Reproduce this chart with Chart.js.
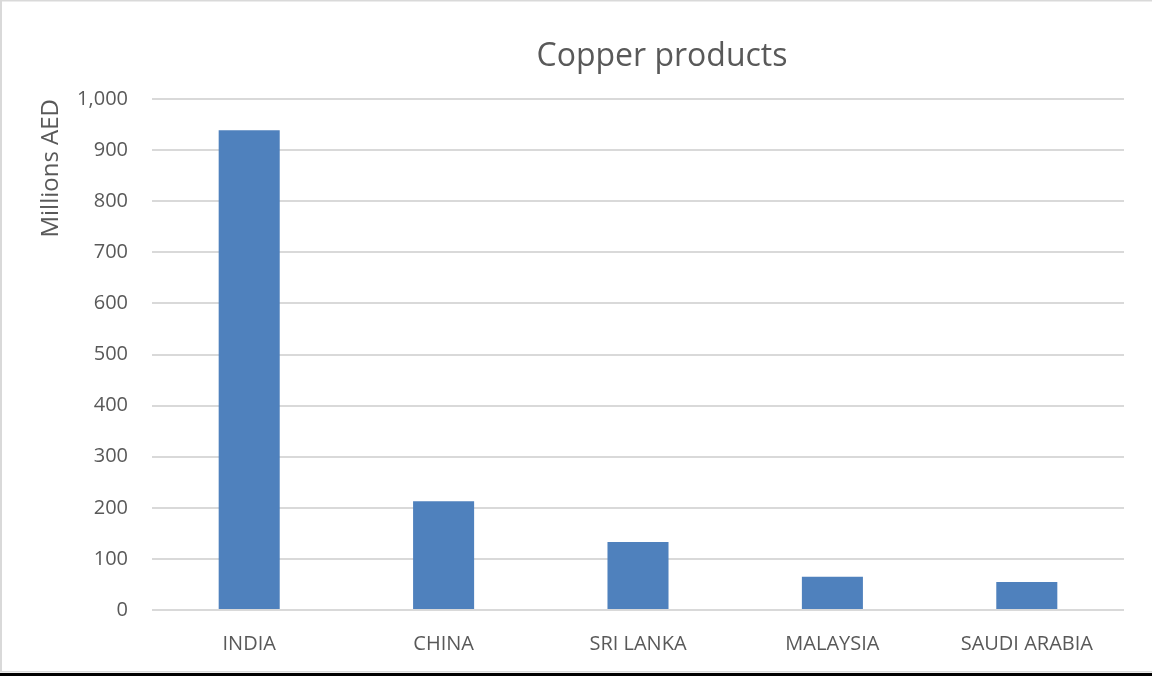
<!DOCTYPE html>
<html>
<head>
<meta charset="utf-8">
<title>Copper products</title>
<script src="https://cdn.jsdelivr.net/npm/chart.js@4/dist/chart.umd.min.js"></script>
<style>
  html, body { margin: 0; padding: 0; background: #ffffff; }
  #wrap { width: 1152px; height: 676px; position: relative; }
  canvas { display: block; }
</style>
</head>
<body>
<div id="wrap"><canvas id="chart" width="1152" height="676"></canvas></div>
<script>
// Export destinations and values (millions AED)
const categories = ['INDIA', 'CHINA', 'SRI LANKA', 'MALAYSIA', 'SAUDI ARABIA'];
const exportValues = [939, 213, 133, 65, 55];
const chartTitle = 'Copper products';
const yAxisTitle = 'Millions AED';
const yMin = 0;
const yMax = 1000;
const yStep = 100;

const textColor = '#595959';
const fontFamily = '"Open Sans", "Noto Sans", "Liberation Sans", sans-serif';

// White background and the frame around the chart object
const framePlugin = {
  id: 'frame',
  beforeDraw(chart) {
    const { ctx, width, height } = chart;
    ctx.save();
    ctx.fillStyle = '#ffffff';
    ctx.fillRect(0, 0, width, height);
    ctx.fillStyle = '#d9d9d9';
    ctx.fillRect(0, 0, width, 1.5);
    ctx.fillRect(0, 0, 2, height - 4);
    ctx.fillRect(0, height - 5, width, 1.5);
    ctx.fillStyle = '#000000';
    ctx.fillRect(0, height - 3, width, 3);
    ctx.restore();
  }
};

// Chart heading, centred a little right of the plot centre
const headingPlugin = {
  id: 'heading',
  afterDraw(chart) {
    const { ctx, chartArea } = chart;
    ctx.save();
    ctx.font = '32px ' + fontFamily;
    ctx.fillStyle = textColor;
    ctx.textAlign = 'center';
    ctx.textBaseline = 'alphabetic';
    const cx = (chartArea.left + chartArea.right) / 2 + 24;
    ctx.fillText(chartTitle, cx, chartArea.top - 33);
    ctx.restore();
  }
};

new Chart(document.getElementById('chart'), {
  type: 'bar',
  data: {
    labels: categories,
    datasets: [{
      data: exportValues,
      backgroundColor: '#4f81bd',
      borderWidth: 0,
      categoryPercentage: 1.0,
      barPercentage: 0.314
    }]
  },
  options: {
    responsive: false,
    animation: false,
    devicePixelRatio: 1,
    layout: { padding: { left: 0, right: 28, top: 99, bottom: 0 } },
    plugins: {
      legend: { display: false },
      title: { display: false },
      tooltip: { enabled: false }
    },
    scales: {
      x: {
        grid: { display: false },
        border: { display: false },
        ticks: {
          color: textColor,
          font: { family: fontFamily, size: 20 },
          padding: 14,
          maxRotation: 0,
          autoSkip: false
        },
        afterFit(scale) { scale.height = 66; }
      },
      y: {
        min: yMin,
        max: yMax,
        grid: { color: '#d9d9d9', lineWidth: 2, drawTicks: false },
        border: { display: false },
        ticks: {
          stepSize: yStep,
          color: textColor,
          font: { family: fontFamily, size: 20 },
          padding: 24,
          callback: (v) => Number(v).toLocaleString('en-US')
        },
        title: {
          display: true,
          text: yAxisTitle,
          align: 'end',
          color: textColor,
          font: { family: fontFamily, size: 24 },
          padding: { top: 37, bottom: 0 }
        },
        afterFit(scale) { scale.width = 152; }
      }
    }
  },
  plugins: [framePlugin, headingPlugin]
});
</script>
</body>
</html>
